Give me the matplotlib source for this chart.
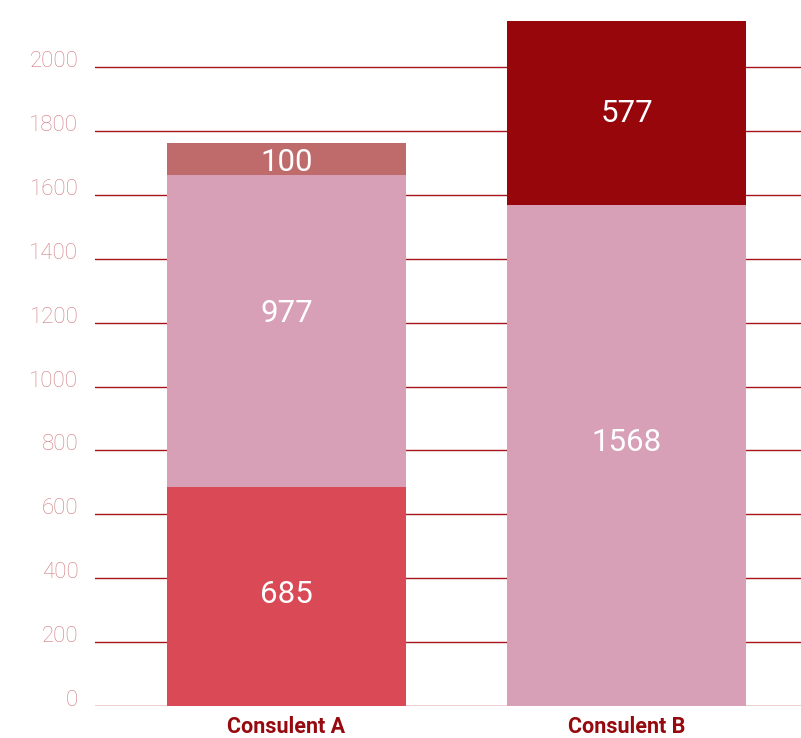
import matplotlib
matplotlib.use("Agg")
import matplotlib.pyplot as plt
from matplotlib.transforms import offset_copy
import numpy as np

categories = ["Consulent A", "Consulent B"]
seg1 = [685, 1568]      # bottom segment
seg2 = [977, 577]       # middle / top
seg3 = [100, 0]         # top of A
yticks = [0, 200, 400, 600, 800, 1000, 1200, 1400, 1600, 1800, 2000]

colors1 = ["#d94a56", "#d7a0b6"]
colors2 = ["#d7a0b6", "#96060b"]
colors3 = ["#bf6a6b", "#bf6a6b"]

# vertical nudges (pixels) of the value labels, per layer, per category
label_dy = [[2, 13], [18, -1], [-3, 0]]

plt.rcParams['font.family'] = ['Roboto', 'DejaVu Sans']

fig = plt.figure(figsize=(8.01, 7.38), dpi=100)
ax = fig.add_axes([95/801, 32/738, 706/801, 706/738])

x = np.arange(len(categories))
w = 0.703
b1 = ax.bar(x, seg1, w, color=colors1, zorder=2)
b2 = ax.bar(x, seg2, w, bottom=seg1, color=colors2, zorder=2)
bottom3 = [a + b for a, b in zip(seg1, seg2)]
b3 = ax.bar(x, seg3, w, bottom=bottom3, color=colors3, zorder=2)

layers = [(seg1, [0, 0]), (seg2, seg1), (seg3, bottom3)]
for li, (vals, bots) in enumerate(layers):
    for i, (v, bt) in enumerate(zip(vals, bots)):
        if v > 0:
            tr = offset_copy(ax.transData, fig=fig, x=0, y=label_dy[li][i], units='dots')
            ax.text(x[i], bt + v / 2, str(v), ha='center', va='center',
                    color='white', fontsize=22.5, zorder=3, transform=tr)

ax.set_xlim(-0.563, 1.513)
ax.set_ylim(0, 2210)
ax.set_yticks(yticks)
ax.set_yticklabels([str(t) for t in yticks], color='#d07c82', fontsize=16,
                   fontweight='light')
for lab in ax.get_yticklabels():
    lab.set_verticalalignment('baseline')
ax.yaxis.grid(True, color='#a8141c', linewidth=1.0, zorder=0)
ax.tick_params(axis='y', length=0, pad=12)
ax.tick_params(axis='x', length=0, pad=7)
ax.set_xticks(x)
ax.set_xticklabels(categories, color='#960a0f', fontsize=15.5, fontweight='bold')
for s in ax.spines.values():
    s.set_visible(False)
ax.set_axisbelow(True)

fig.savefig("out.png", dpi=100)
